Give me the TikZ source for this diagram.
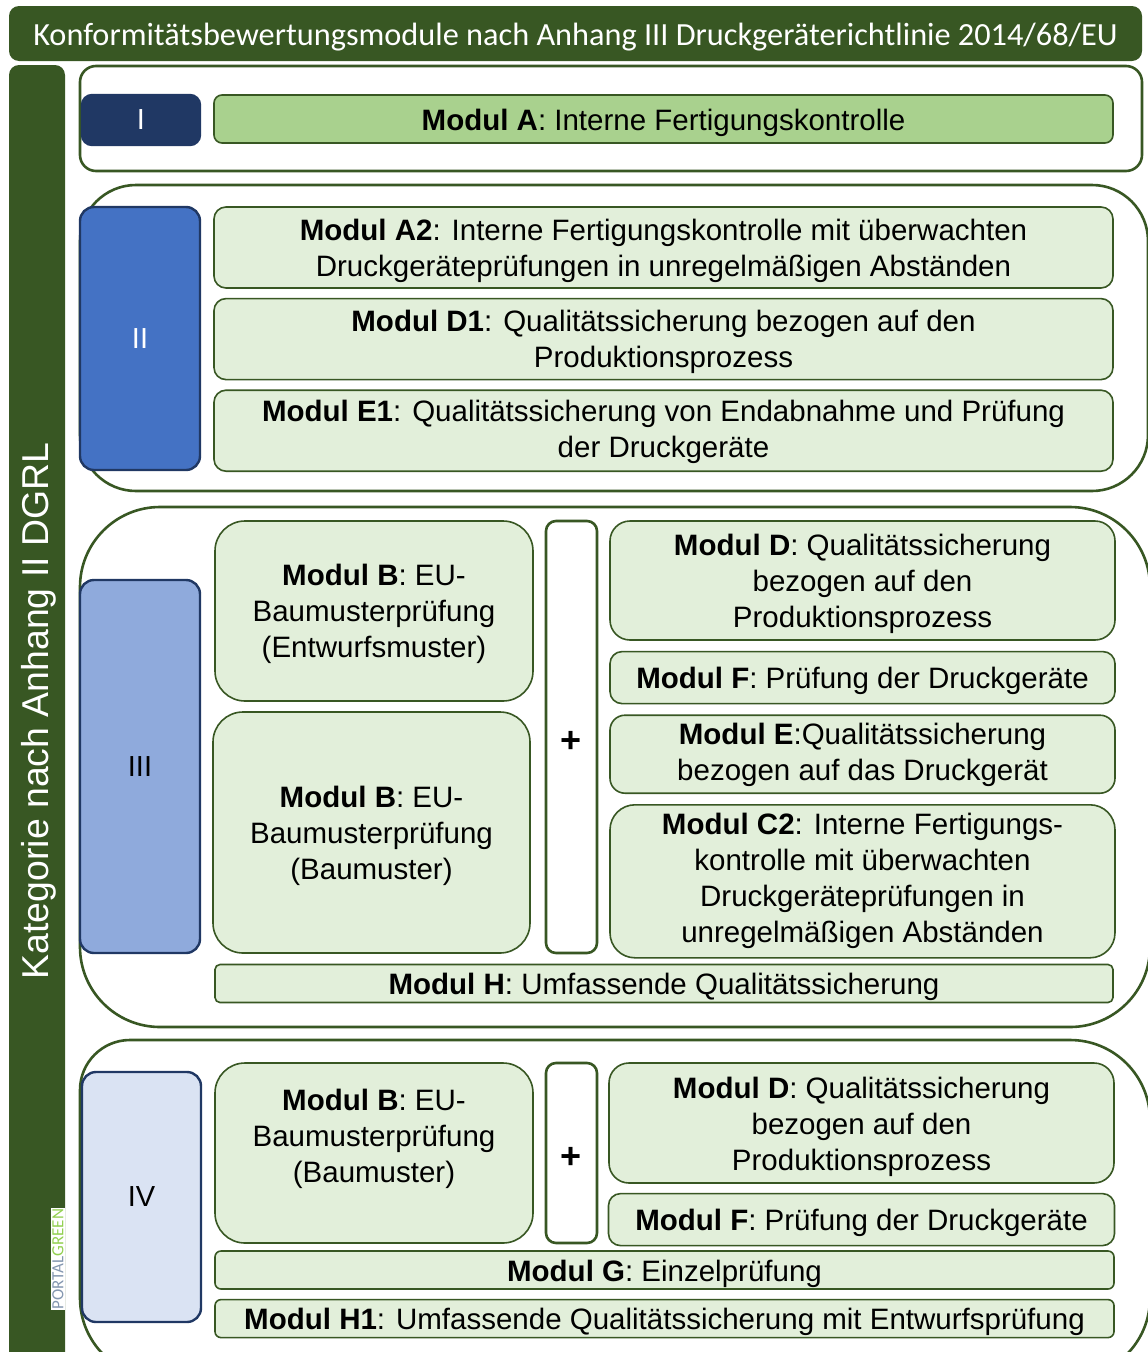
\documentclass[tikz,border=0pt]{standalone}
\usepackage{fontspec}
\setmainfont{Liberation Sans}
\newfontfamily\titlefont{Carlito}
\usetikzlibrary{positioning}
\definecolor{dkgreen}{RGB}{56,87,35}
\definecolor{navy}{RGB}{32,56,100}
\definecolor{blueII}{RGB}{68,114,196}
\definecolor{blueIII}{RGB}{143,170,220}
\definecolor{blueIV}{RGB}{218,227,243}
\definecolor{greenA}{RGB}{169,209,142}
\definecolor{modgreen}{RGB}{226,239,218}
\definecolor{wmblue}{RGB}{132,151,176}
\definecolor{wmgreen}{RGB}{146,208,80}

\begin{document}
\begin{tikzpicture}[x=1pt,y=-1pt,
  grp frame/.style={draw=dkgreen,line width=2.6pt,fill=white},
  cat node/.style={draw=navy,line width=2.4pt,rounded corners=14pt,inner sep=0pt,
    font=\fontsize{29}{34}\selectfont},
  mod node/.style={draw=dkgreen,fill=modgreen,line width=1.6pt,rounded corners=12pt,
    inner sep=0pt,align=center,font=\fontsize{29.5}{36}\selectfont,
    execute at begin node={\rule{0pt}{30pt}},execute at end node={\rule[-8pt]{0pt}{8pt}}},
  text drop/.style={execute at begin node={\rule{0pt}{#1}}},
  text lift/.style={execute at end node={\rule[-#1]{0pt}{#1}}},
  plus node/.style={draw=dkgreen,fill=white,line width=2.6pt,rounded corners=10pt,
    inner sep=0pt,minimum width=51,text height=30pt,text depth=0pt,
    font=\bfseries\fontsize{36}{36}\selectfont}]

  \useasboundingbox (0,0) rectangle (1148,1352);
  \clip (0,0) rectangle (1148,1352);

  \node[fill=dkgreen,rounded corners=10pt,minimum width=1133,minimum height=55,inner sep=0pt,
    text height=30pt,text depth=7pt,text=white,font=\titlefont\fontsize{32.3}{33}\selectfont] (title) at (575.5,33.5)
    {Konformitätsbewertungsmodule nach Anhang III Druckgeräterichtlinie 2014/68/EU};
  \node[fill=dkgreen,rounded corners=10pt,minimum width=56,minimum height=1330,inner sep=0pt] (side) at (37,730) {};
  \node[rotate=90,text=white,font=\fontsize{37.4}{38}\selectfont] (kat) at (39,711) {Kategorie nach Anhang II DGRL};
  \node[rotate=90,fill=white,inner sep=1pt,font=\titlefont\fontsize{17}{17}\selectfont] (wm) at (58,1259)
    {\textcolor{wmblue}{PORTAL}\textcolor{wmgreen}{GREEN}};

  \draw[grp frame,rounded corners=16pt] (80,66) rectangle (1142,171);
  \draw[grp frame,rounded corners=56pt] (80,185) rectangle (1148,491);
  \draw[grp frame,rounded corners=80pt] (80,507) rectangle (1150,1027);
  \draw[grp frame] (1150,1040) [rounded corners=50pt] -- (80,1040) [rounded corners=80pt] -- (80,1378) -- (1150,1378) -- cycle;

  \node[cat node,fill=navy,text=white,minimum width=118,minimum height=50,rounded corners=10pt] (k1) at (141,120) {I};
  \node[cat node,fill=blueII,text=white,minimum width=120,minimum height=263] (k2) at (140,338.5) {II};
  \node[cat node,fill=blueIII,minimum width=120,minimum height=373] (k3) at (140,766.5) {III};
  \node[cat node,fill=blueIV,minimum width=119,minimum height=250] (k4) at (141.5,1197) {IV};

  \node[mod node,fill=greenA,minimum width=899,minimum height=48,rounded corners=8pt] (modA) at (663.5,119)
    {\textbf{Modul A}: Interne Fertigungskontrolle};

  \node[mod node,text drop=65.5pt,minimum width=899,minimum height=81] (modA2) at (663.5,247.5)
    {\textbf{Modul A2}: Interne Fertigungskontrolle mit überwachten\\Druckgeräteprüfungen in unregelmäßigen Abständen};
  \node[mod node,text drop=65.5pt,minimum width=899,minimum height=81] (modD1) [below=9pt of modA2]
    {\textbf{Modul D1}: Qualitätssicherung bezogen auf den\\Produktionsprozess};
  \node[mod node,text drop=61.5pt,minimum width=899,minimum height=81] (modE1) [below=9pt of modD1]
    {\textbf{Modul E1}: Qualitätssicherung von Endabnahme und Prüfung\\der Druckgeräte};

  \node[mod node,text drop=101.5pt,minimum width=318,minimum height=180,rounded corners=30pt] (modB) at (374,611)
    {\textbf{Modul B}: EU-\\Baumusterprüfung\\(Entwurfsmuster)};
  \node[mod node,text drop=101.5pt,minimum width=317,minimum height=241,rounded corners=30pt] (modBb) at (371.5,832.5)
    {\textbf{Modul B}: EU-\\Baumusterprüfung\\(Baumuster)};
  \node[plus node,minimum height=432] (plus1) at (571.5,737) {+};
  \node[mod node,text drop=101.5pt,minimum width=505,minimum height=119,rounded corners=20pt] (modD) at (862.5,580.5)
    {\textbf{Modul D}: Qualitätssicherung\\bezogen auf den\\Produktionsprozess};
  \node[mod node,minimum width=505,minimum height=52] (modF) [below=10pt of modD]
    {\textbf{Modul F}: Prüfung der Druckgeräte};
  \node[mod node,text drop=61.5pt,minimum width=505,minimum height=78,rounded corners=15pt] (modE) [below=10pt of modF]
    {\textbf{Modul E}:Qualitätssicherung\\bezogen auf das Druckgerät};
  \node[mod node,minimum width=505,minimum height=153,rounded corners=25pt] (modC2) [below=10pt of modE]
    {\textbf{Modul C2}: Interne Fertigungs-\\kontrolle mit überwachten\\Druckgeräteprüfungen in\\unregelmäßigen Abständen};
  \node[mod node,minimum width=898,minimum height=35,rounded corners=5pt] (modH) at (664,983.5)
    {\textbf{Modul H}: Umfassende Qualitätssicherung};

  \node[mod node,text lift=34pt,minimum width=318,minimum height=180,rounded corners=30pt] (modB4) at (374,1153)
    {\textbf{Modul B}: EU-\\Baumusterprüfung\\(Baumuster)};
  \node[plus node,minimum height=180] (plus2) at (571.5,1153) {+};
  \node[mod node,text drop=103.5pt,minimum width=505,minimum height=120,rounded corners=20pt] (modD4) at (861.5,1123)
    {\textbf{Modul D}: Qualitätssicherung\\bezogen auf den\\Produktionsprozess};
  \node[mod node,minimum width=506,minimum height=52] (modF4) [below=9pt of modD4]
    {\textbf{Modul F}: Prüfung der Druckgeräte};
  \node[mod node,minimum width=899,minimum height=38,rounded corners=6pt] (modG) at (664.5,1270)
    {\textbf{Modul G}: Einzelprüfung};
  \node[mod node,minimum width=899,minimum height=36,rounded corners=6pt] (modH1) [below=9pt of modG]
    {\textbf{Modul H1}: Umfassende Qualitätssicherung mit Entwurfsprüfung};
\end{tikzpicture}
\end{document}
